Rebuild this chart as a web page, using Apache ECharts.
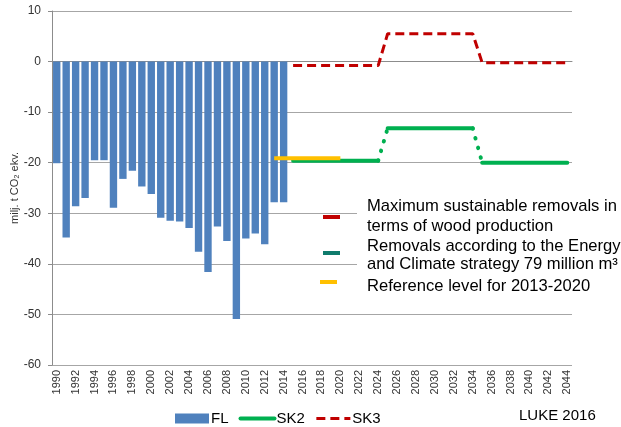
<!DOCTYPE html>
<html>
<head>
<meta charset="utf-8">
<script src="https://cdn.jsdelivr.net/npm/echarts@6/dist/echarts.min.js"></script>
<style>html,body{margin:0;padding:0;background:#fff}#c{width:621px;height:427px}</style>
</head>
<body>
<div id="c"></div>
<script>
var years = ['1990','1991','1992','1993','1994','1995','1996','1997','1998','1999',
  '2000','2001','2002','2003','2004','2005','2006','2007','2008','2009',
  '2010','2011','2012','2013','2014','2015','2016','2017','2018','2019',
  '2020','2021','2022','2023','2024','2025','2026','2027','2028','2029',
  '2030','2031','2032','2033','2034','2035','2036','2037','2038','2039',
  '2040','2041','2042','2043','2044'];
// FL: 1990-2014
var flValues = [-20.1,-34.8,-28.6,-27.0,-19.5,-19.5,-28.9,-23.2,-21.6,-24.7,
  -26.2,-30.9,-31.5,-31.6,-32.9,-37.6,-41.6,-32.6,-35.5,-50.9,
  -35.0,-34.0,-36.1,-27.8,-27.8];
// SK2: 2015-2044
var sk2Values = [-19.6,-19.6,-19.6,-19.6,-19.6,-19.6,-19.6,-19.6,-19.6,-19.6,
  -13.2,-13.2,-13.2,-13.2,-13.2,-13.2,-13.2,-13.2,-13.2,-13.2,
  -20.0,-20.0,-20.0,-20.0,-20.0,-20.0,-20.0,-20.0,-20.0,-20.0];
// SK3: 2015-2044
var sk3Values = [-0.8,-0.8,-0.8,-0.8,-0.8,-0.8,-0.8,-0.8,-0.8,-0.8,
  5.5,5.5,5.5,5.5,5.5,5.5,5.5,5.5,5.5,5.5,
  -0.25,-0.25,-0.25,-0.25,-0.25,-0.25,-0.25,-0.25,-0.25,-0.25];
// Reference level 2013-2020
var refValues = [-19.1,-19.1,-19.1,-19.1,-19.1,-19.1,-19.1,-19.1];
var flStart = '1990', skStart = '2015', refStart = '2013';
var yTicks = {min: -60, max: 10, interval: 10};
var noteLines = ['Maximum sustainable removals in', 'terms of wood production',
  'Removals according to the Energy', 'and Climate strategy 79 million m³',
  'Reference level for 2013-2020'];

function place(vals, startYear) {
  var out = years.map(function () { return null; });
  var s = years.indexOf(startYear);
  vals.forEach(function (v, i) { out[s + i] = v; });
  return out;
}

var FONT = 'Liberation Sans, Arial, sans-serif';
var fl = place(flValues, flStart);
var sk2 = place(sk2Values, skStart);
var sk3 = place(sk3Values, skStart);
var ref = place(refValues, refStart);

// split SK2 into plateau runs (solid) and transitions (dotted)
var runs = [];
var transition = years.map(function () { return null; });
var cur = null;
sk2.forEach(function (v, i) {
  if (v === null) { cur = null; return; }
  if (cur && sk2[i - 1] === v) { cur[i] = v; }
  else {
    if (cur && sk2[i - 1] !== null) { transition[i - 1] = sk2[i - 1]; transition[i] = v; }
    cur = years.map(function () { return null; });
    cur[i] = v;
    runs.push(cur);
  }
});

var series = [{
  name: 'FL', type: 'bar', data: fl, barWidth: '78%',
  itemStyle: {color: '#4f81bd'}, z: 1
}];
runs.forEach(function (r) {
  series.push({name: 'SK2', type: 'line', data: r, symbol: 'none',
    lineStyle: {color: '#00b050', width: 4, cap: 'round'}, itemStyle: {color: '#00b050'}, z: 3});
});
series.push({name: 'SK2 transition', type: 'line', data: transition, symbol: 'none',
  lineStyle: {color: '#00b050', width: 4, type: [0.5, 9.5], cap: 'round'}, itemStyle: {color: '#00b050'}, z: 3});
series.push({name: 'SK3', type: 'line', data: sk3, symbol: 'none',
  lineStyle: {color: '#c00000', width: 3, type: [9, 5]}, itemStyle: {color: '#c00000'}, z: 3});
series.push({name: 'Reference', type: 'line', data: ref, symbol: 'none',
  lineStyle: {color: '#ffc000', width: 4}, itemStyle: {color: '#ffc000'}, z: 4});

var noteY = [206.2, 226.2, 246.8, 264.5, 286.2];
var graphics = [
  {type: 'rect', z: 10, shape: {x: 357, y: 182, width: 264, height: 122}, style: {fill: '#fff'}},
  {type: 'text', z: 11, left: 519, top: 408, style: {text: 'LUKE 2016', font: '15px ' + FONT, fill: '#000'}},
  {type: 'rect', z: 11, shape: {x: 323, y: 215, width: 17, height: 4}, style: {fill: '#c00000'}},
  {type: 'rect', z: 11, shape: {x: 323, y: 251, width: 17, height: 4}, style: {fill: '#0f7b6c'}},
  {type: 'rect', z: 11, shape: {x: 320, y: 280, width: 17, height: 4}, style: {fill: '#ffc000'}}
];
noteLines.forEach(function (t, i) {
  graphics.push({type: 'text', z: 11, x: 367, y: noteY[i],
    style: {text: t, font: '16.6px ' + FONT, fill: '#000', verticalAlign: 'middle'}});
});

var chart = echarts.init(document.getElementById('c'), null, {renderer: 'canvas'});
chart.setOption({
  animation: false,
  backgroundColor: '#fff',
  grid: {left: 52, right: 49, top: 11, bottom: 62, containLabel: false, outerBoundsMode: 'none'},
  xAxis: {
    type: 'category', data: years, boundaryGap: true,
    axisLine: {lineStyle: {color: '#8c8c8c'}},
    axisTick: {show: false},
    axisLabel: {rotate: 90, interval: 1, fontSize: 11, color: '#333', fontFamily: FONT, margin: 5}
  },
  yAxis: {
    type: 'value', min: yTicks.min, max: yTicks.max, interval: yTicks.interval,
    name: 'milj. t CO₂ ekv.', nameLocation: 'middle', nameGap: 32, nameMoveOverlap: false,
    nameTextStyle: {fontSize: 11, color: '#333', fontFamily: FONT},
    axisLine: {show: true, lineStyle: {color: '#8c8c8c'}},
    axisTick: {show: true, length: 4, lineStyle: {color: '#8c8c8c'}},
    axisLabel: {fontSize: 12, color: '#333', fontFamily: FONT, margin: 11},
    splitLine: {lineStyle: {color: '#a6a6a6'}}
  },
  legend: {
    data: [
      {name: 'FL', icon: 'rect'},
      {name: 'SK2', itemStyle: {opacity: 0}, lineStyle: {width: 4}},
      {name: 'SK3', itemStyle: {opacity: 0}, lineStyle: {width: 3}}
    ],
    left: 175, top: 411, itemWidth: 34, itemHeight: 10, itemGap: 10, padding: 0,
    textStyle: {fontSize: 15, color: '#000', fontFamily: FONT, padding: [0, 0, 0, -3]}
  },
  graphic: graphics,
  series: series
});
</script>
</body>
</html>
